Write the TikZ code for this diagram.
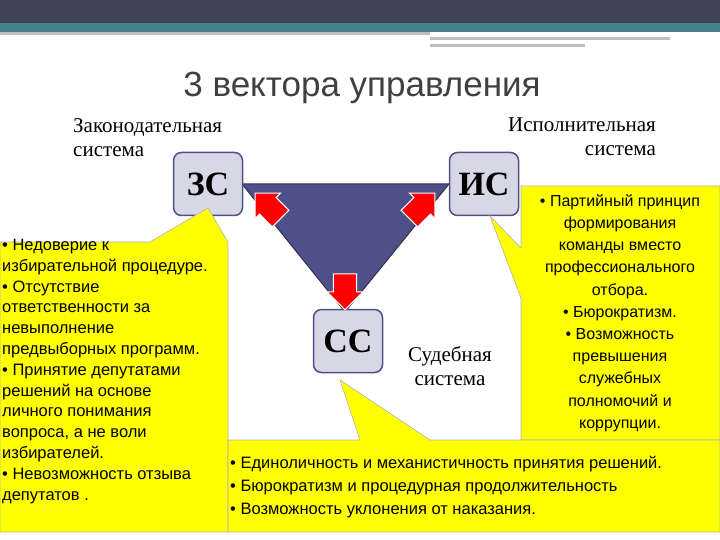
\documentclass[tikz,border=0pt]{standalone}
\usepackage{fontspec}
\setmainfont{Liberation Serif}
\newfontfamily\sans{Liberation Sans}
\usetikzlibrary{shapes.arrows}
\definecolor{bar}{HTML}{3E4456}
\definecolor{teal}{HTML}{45838A}
\definecolor{tri}{HTML}{4F5088}
\definecolor{boxf}{HTML}{D7D7E6}
\definecolor{yel}{HTML}{FFFF00}
\tikzset{
 sbox/.style={draw=tri,line width=1.5pt,fill=boxf,rounded corners=8pt,minimum width=69pt,minimum height=63pt,font=\bfseries\fontsize{34}{34}\selectfont,inner sep=0pt},
 call/.style={fill=yel,draw=gray!60,line width=0.6pt},
 ctext/.style={font=\sans\fontsize{16.5}{20.8}\selectfont,align=left,inner sep=0pt},
 lab/.style={font=\fontsize{21}{24}\selectfont,inner sep=0pt},
 rarr/.style={single arrow,fill=red,draw=white,line width=1pt,minimum height=36pt,minimum width=36pt,single arrow head extend=4pt,inner sep=7pt}
}
\begin{document}
\begin{tikzpicture}[x=1pt,y=-1pt]
\useasboundingbox (0,0) rectangle (720,540);
\fill[bar] (0,0) rectangle (720,23);
\fill[teal] (0,23) rectangle (720,32);
\fill[gray!50] (0,32) rectangle (430,35);
\fill[gray!50] (430,37) rectangle (670,40);
\fill[gray!50] (430,44) rectangle (585,47);
\node[font=\sans\fontsize{35}{35}\selectfont,text=black!75] (title) at (362,88) {3 вектора управления};
\node[lab,align=left,anchor=north west] (zl) at (73,118) {Законодательная\\система};
\node[lab,align=right,anchor=north east] (il) at (656,118) {Исполнительная\\система};
\node[lab,align=center] (sl) at (450,366) {Судебная\\система};
\fill[tri] (242,184) -- (449,184) -- (345,312) -- cycle;
\draw[tri!60!black,line width=1pt] (242,184) -- (449,184) -- (345,312) -- cycle;
\node[sbox] (zs) at (208,184) {ЗС};
\node[sbox] (is) at (484,184) {ИС};
\node[sbox] (cc) at (348,341) {СС};
\node[rarr,rotate=135] (a1) at (272,210) {};
\node[rarr,rotate=45] (a2) at (418,210) {};
\node[rarr,rotate=-90] (a3) at (345,286) {};
\filldraw[call] (0,242) -- (150,242) -- (208,208) -- (228,242) -- (228,532) -- (0,532) -- cycle;
\filldraw[call] (521,186) -- (720,186) -- (720,440) -- (521,440) -- (521,298) -- (490,216) -- (521,248) -- cycle;
\filldraw[call] (228,440) -- (360,440) -- (340,380) -- (430,440) -- (720,440) -- (720,532) -- (228,532) -- cycle;
\node[ctext,anchor=north west] (lt) at (2,239) {• Недоверие к\\избирательной процедуре.\\• Отсутствие\\ответственности за\\невыполнение\\предвыборных программ.\\• Принятие депутатами\\решений на основе\\личного понимания\\вопроса, а не воли\\избирателей.\\• Невозможность отзыва\\депутатов .};
\node[ctext,align=center,font=\sans\fontsize{16}{22.2}\selectfont] (rt) at (620,313) {• Партийный принцип\\формирования\\команды вместо\\профессионального\\отбора.\\• Бюрократизм.\\• Возможность\\превышения\\служебных\\полномочий и\\коррупции.};
\node[ctext,anchor=north west,font=\sans\fontsize{16.5}{23}\selectfont] (bt) at (230,456) {• Единоличность и механистичность принятия решений.\\• Бюрократизм и процедурная продолжительность\\• Возможность уклонения от наказания.};
\end{tikzpicture}
\end{document}
